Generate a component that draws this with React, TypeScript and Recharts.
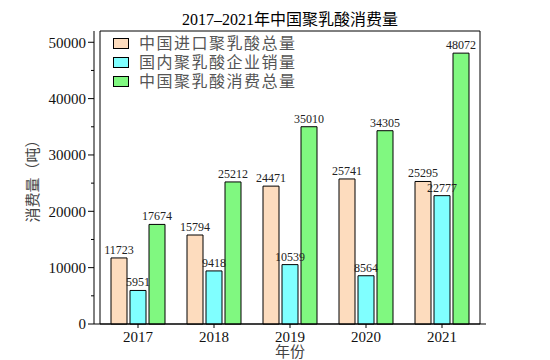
import { BarChart, Bar, XAxis, YAxis, LabelList, Label, ReferenceArea } from 'recharts'

const years = ['2017', '2018', '2019', '2020', '2021']
const importTotal = [11723, 15794, 24471, 25741, 25295]
const domesticSales = [5951, 9418, 10539, 8564, 22777]
const consumptionTotal = [17674, 25212, 35010, 34305, 48072]
const seriesNames = ['中国进口聚乳酸总量', '国内聚乳酸企业销量', '中国聚乳酸消费总量']
const seriesColors = ['#FDDCBE', '#80FFFF', '#80F880']
const yTicks = [0, 5000, 10000, 15000, 20000, 25000, 30000, 35000, 40000, 45000, 50000]

const data = years.map((year, i) => ({
  year,
  imp: importTotal[i],
  dom: domesticSales[i],
  con: consumptionTotal[i],
}))

const FONT = '"Liberation Serif", "Times New Roman", "Noto Sans CJK SC", serif'

const YTick = (props: any) => {
  const { x, y, payload } = props
  const major = payload.value % 10000 === 0
  return (
    <g>
      <line x1={x - (major ? 6 : 3)} x2={x} y1={y} y2={y} stroke="#000" />
      {major && (
        <text x={x - 8} y={y} dy="0.35em" textAnchor="end" fontSize={15} fill="#111" fontFamily={FONT}>
          {payload.value}
        </text>
      )}
    </g>
  )
}

export default function App() {
  const keys = ['imp', 'dom', 'con']
  return (
    <div style={{ position: 'absolute', left: 0, top: 0, width: 550, height: 360, fontFamily: FONT, background: '#fff' }}>
      <div style={{ position: 'absolute', left: 0, top: 10, width: 580, textAlign: 'center', fontSize: 16, lineHeight: '20px', color: '#000' }}>
        2017–2021年中国聚乳酸消费量
      </div>
      <BarChart width={550} height={360} data={data} margin={{ top: 31, right: 64, bottom: 0, left: 0 }} barSize={16} barGap={3}>
        <ReferenceArea y1={0} y2={52000} fill="none" stroke="#000" strokeWidth={1} ifOverflow="visible" />
        <XAxis
          dataKey="year"
          padding={{ left: 6, right: 6 }}
          height={36}
          interval={0}
          tickSize={4}
          tickMargin={3}
          tick={{ fontSize: 15, fill: '#111', fontFamily: FONT }}
          axisLine={{ stroke: '#000' }}
          tickLine={{ stroke: '#000' }}
        >
          <Label
            content={({ viewBox }: any) => (
              <text x={viewBox.x + viewBox.width / 2} y={viewBox.y + 28} dominantBaseline="central" textAnchor="middle" fontSize={15} fill="#444" fontFamily={FONT}>
                年份
              </text>
            )}
          />
        </XAxis>
        <YAxis
          domain={[0, 52000]}
          ticks={yTicks}
          interval={0}
          width={94}
          tickSize={0}
          tickMargin={0}
          tickLine={false}
          tick={<YTick />}
          axisLine={{ stroke: '#000' }}
        >
          <Label
            content={({ viewBox }: any) => {
              const cx = viewBox.x + 33
              const cy = viewBox.y + viewBox.height / 2
              return (
                <text x={cx} y={cy} transform={`rotate(-90 ${cx} ${cy})`} dominantBaseline="central" textAnchor="middle" fontSize={15} fill="#444" fontFamily={FONT}>
                  消费量（吨）
                </text>
              )
            }}
          />
        </YAxis>
        {keys.map((k, i) => (
          <Bar key={k} dataKey={k} name={seriesNames[i]} fill={seriesColors[i]} stroke="#000" strokeWidth={1} isAnimationActive={false}>
            <LabelList dataKey={k} position="top" offset={4} fontSize={12} fill="#222" fontFamily={FONT} />
          </Bar>
        ))}
      </BarChart>
      <div style={{ position: 'absolute', left: 113, top: 34, color: '#555', fontSize: 16, lineHeight: '19px' }}>
        {seriesNames.map((n, i) => (
          <div key={n} style={{ display: 'flex', alignItems: 'center', height: 19, letterSpacing: 1.5 }}>
            <span style={{ display: 'inline-block', width: 14, height: 9, background: seriesColors[i], border: '1px solid #000', marginRight: 10 }} />
            {n}
          </div>
        ))}
      </div>
    </div>
  )
}
